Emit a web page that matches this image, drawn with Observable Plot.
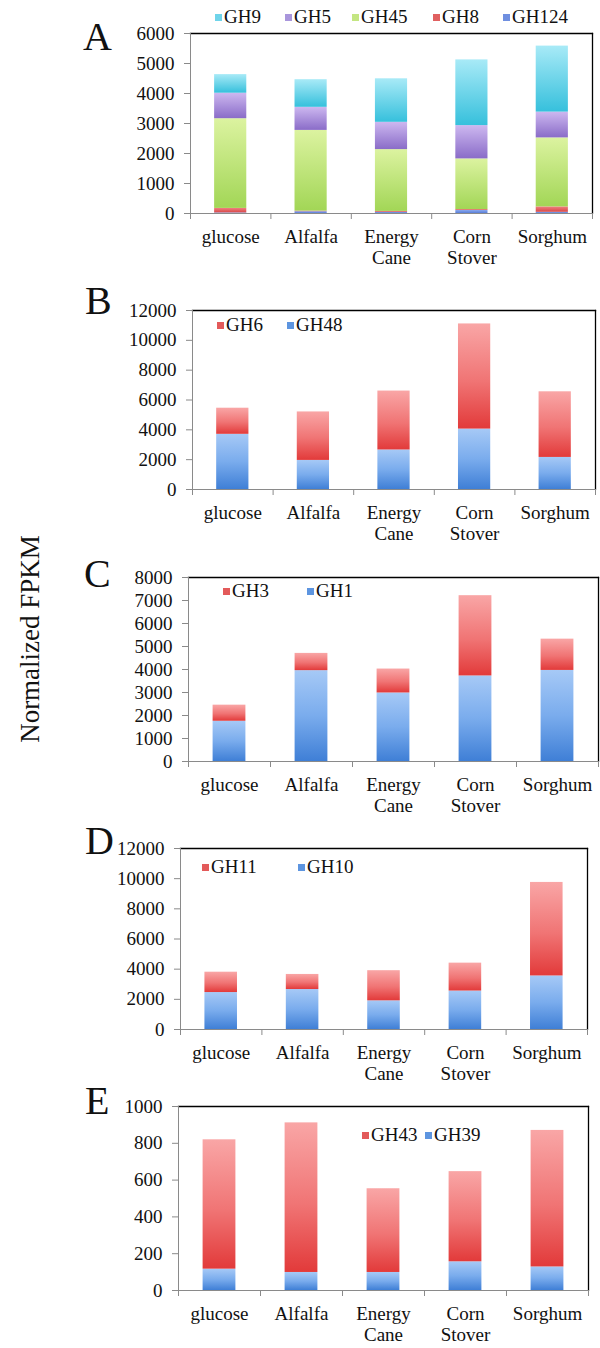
<!DOCTYPE html>
<html><head><meta charset="utf-8">
<script src="https://cdn.jsdelivr.net/npm/d3@7"></script>
<script src="https://cdn.jsdelivr.net/npm/@observablehq/plot@0.6"></script>
<style>
body{margin:0;background:#fff;}
#fig{position:relative;width:600px;height:1348px;overflow:hidden;font-family:'Liberation Serif',serif;color:#111;}
#fig svg text{font-family:'Liberation Serif',serif;}
.panel{position:absolute;left:0;}
.letter{position:absolute;font-family:'Liberation Serif',serif;font-size:40px;line-height:1;z-index:2;}
.ylabel{position:absolute;font-family:'Liberation Serif',serif;white-space:nowrap;font-size:27px;transform:translate(-50%,-50%) rotate(-90deg);z-index:2;}
.leg{position:absolute;font-family:'Liberation Serif',serif;height:22px;display:flex;align-items:center;font-size:19px;z-index:2;white-space:nowrap;}
.sw{display:inline-block;width:7px;height:7px;margin-right:2px;}
</style></head>
<body>
<svg width="0" height="0" style="position:absolute">
<defs>
<linearGradient id="gBlue" x1="0" y1="0" x2="0" y2="1"><stop offset="0" stop-color="#a6c9f6"/><stop offset="0.5" stop-color="#7aaced"/><stop offset="1" stop-color="#3f7fd6"/></linearGradient>
<linearGradient id="gRed" x1="0" y1="0" x2="0" y2="1"><stop offset="0" stop-color="#f9a6a6"/><stop offset="0.55" stop-color="#f07474"/><stop offset="1" stop-color="#e23a3a"/></linearGradient>
<linearGradient id="gCyan" x1="0" y1="0" x2="0" y2="1"><stop offset="0" stop-color="#a8eaf7"/><stop offset="1" stop-color="#36c0dc"/></linearGradient>
<linearGradient id="gPurple" x1="0" y1="0" x2="0" y2="1"><stop offset="0" stop-color="#cdb8f0"/><stop offset="1" stop-color="#8a6cc8"/></linearGradient>
<linearGradient id="gGreen" x1="0" y1="0" x2="0" y2="1"><stop offset="0" stop-color="#dcf3a0"/><stop offset="1" stop-color="#a2d656"/></linearGradient>
<linearGradient id="gRedA" x1="0" y1="0" x2="0" y2="1"><stop offset="0" stop-color="#f08080"/><stop offset="1" stop-color="#d84848"/></linearGradient>
<linearGradient id="gBlueA" x1="0" y1="0" x2="0" y2="1"><stop offset="0" stop-color="#8aa8ee"/><stop offset="1" stop-color="#5a7fd8"/></linearGradient>
</defs>
</svg>
<div id="fig"></div>
<script>
// ---- data ----
const categories = ["glucose", "Alfalfa", "Energy Cane", "Corn Stover", "Sorghum"];
const categoryLabels = ["glucose", "Alfalfa", "Energy\nCane", "Corn\nStover", "Sorghum"];

// Panel A (stack order bottom -> top)
const seriesA = ["GH124", "GH8", "GH45", "GH5", "GH9"];
const gh124 = [20, 60, 40, 100, 40];
const gh8 = [150, 20, 30, 30, 180];
const gh45 = [2990, 2690, 2060, 1690, 2300];
const gh5 = [850, 770, 910, 1110, 860];
const gh9 = [620, 920, 1450, 2190, 2200];

// Panel B
const seriesB = ["GH48", "GH6"];
const gh48 = [3700, 1950, 2650, 4050, 2150];
const gh6 = [1750, 3250, 3950, 7050, 4400];

// Panel C
const seriesC = ["GH1", "GH3"];
const gh1 = [1750, 3950, 2980, 3720, 3960];
const gh3 = [700, 750, 1040, 3490, 1360];

// Panel D
const seriesD = ["GH10", "GH11"];
const gh10 = [2450, 2650, 1900, 2550, 3550];
const gh11 = [1350, 1000, 2000, 1850, 6200];

// Panel E
const seriesE = ["GH39", "GH43"];
const gh39 = [116, 98, 98, 156, 128];
const gh43 = [703, 813, 455, 490, 742];

const yLabel = "Normalized FPKM";

// ---- drawing ----
const fig = document.getElementById("fig");
const SERIF = "'Liberation Serif', serif";

function addDiv(cls, text, css) {
  const d = document.createElement("div");
  d.className = cls;
  d.textContent = text;
  Object.assign(d.style, css);
  fig.appendChild(d);
  return d;
}

function panel(cfg) {
  const {frameTop, zero, left, right, yMax, yStep, series, values, fills} = cfg;
  const data = [];
  series.forEach((s, i) => categories.forEach((c, j) => data.push({category: c, series: s, value: values[i][j]})));
  const mt = 30, mb = 66;
  const height = (zero - frameTop) + mt + mb;
  const step = (right - left) / categories.length;
  const chart = Plot.plot({
    width: 600, height,
    marginTop: mt, marginBottom: mb, marginLeft: left, marginRight: 600 - right,
    style: {fontFamily: SERIF, fontSize: "19px", color: "#111", background: "transparent", overflow: "visible"},
    x: {domain: categories, paddingInner: 0.6, paddingOuter: 0.3, round: false, label: null},
    y: {domain: [0, yMax], label: null},
    color: {domain: series, range: fills},
    marks: [
      Plot.barY(data, Plot.stackY({x: "category", y: "value", fill: "series", order: null})),
      Plot.frame({anchor: "top", stroke: "#000", strokeWidth: 1.3}),
      Plot.frame({anchor: "right", stroke: "#000", strokeWidth: 1.3}),
      Plot.frame({anchor: "left", stroke: "#8a8a8a"}),
      Plot.ruleY([0], {stroke: "#8a8a8a"}),
      Plot.ruleX(categories, {x: d => d, y1: 0, y2: 0, dx: -step / 2, insetBottom: -6, stroke: "#8a8a8a"}),
      Plot.ruleX(categories.slice(-1), {x: d => d, y1: 0, y2: 0, dx: step / 2, insetBottom: -6, stroke: "#8a8a8a"}),
      Plot.axisY({ticks: d3.range(0, yMax + 1, yStep), tickSize: 6, tickPadding: 10, tickFormat: d => String(d), stroke: "#8a8a8a", fill: "#111", label: null}),
      Plot.axisX({tickSize: 0, tickPadding: 15, lineHeight: 1.1, tickFormat: d => categoryLabels[categories.indexOf(d)], fill: "#111", label: null})
    ]
  });
  chart.classList.add("panel");
  chart.style.top = (frameTop - mt) + "px";
  chart.style.position = "absolute";
  chart.style.fontFamily = SERIF;
  fig.appendChild(chart);
}

function legend(items, y) {
  items.forEach(([name, color, x]) => {
    const d = document.createElement("div");
    d.className = "leg";
    d.style.left = x + "px";
    d.style.top = (y - 11) + "px";
    const s = document.createElement("span");
    s.className = "sw";
    s.style.background = color;
    d.appendChild(s);
    d.appendChild(document.createTextNode(name));
    fig.appendChild(d);
  });
}

// Panel A
panel({frameTop: 33, zero: 213, left: 190, right: 592, yMax: 6000, yStep: 1000,
  series: seriesA, values: [gh124, gh8, gh45, gh5, gh9],
  fills: ["url(#gBlueA)", "url(#gRedA)", "url(#gGreen)", "url(#gPurple)", "url(#gCyan)"]});
legend([["GH9", "#6fd4ea", 215], ["GH5", "#a996dc", 285], ["GH45", "#c4e682", 352], ["GH8", "#e06060", 433], ["GH124", "#6f8fe0", 503]], 17);
addDiv("letter", "A", {left: "83px", top: "17px"});

// Panel B
panel({frameTop: 310, zero: 489, left: 192, right: 595, yMax: 12000, yStep: 2000,
  series: seriesB, values: [gh48, gh6], fills: ["url(#gBlue)", "url(#gRed)"]});
legend([["GH6", "#e35a5a", 217], ["GH48", "#5d95e0", 287]], 325);
addDiv("letter", "B", {left: "85px", top: "281px"});

// Panel C
panel({frameTop: 577, zero: 761, left: 188, right: 598, yMax: 8000, yStep: 1000,
  series: seriesC, values: [gh1, gh3], fills: ["url(#gBlue)", "url(#gRed)"]});
legend([["GH3", "#e35a5a", 223], ["GH1", "#5d95e0", 307]], 591);
addDiv("letter", "C", {left: "84px", top: "554px"});

// Panel D
panel({frameTop: 848, zero: 1029, left: 180, right: 587, yMax: 12000, yStep: 2000,
  series: seriesD, values: [gh10, gh11], fills: ["url(#gBlue)", "url(#gRed)"]});
legend([["GH11", "#e35a5a", 202], ["GH10", "#5d95e0", 298]], 867);
addDiv("letter", "D", {left: "85px", top: "821px"});

// Panel E
panel({frameTop: 1106, zero: 1290, left: 178, right: 588, yMax: 1000, yStep: 200,
  series: seriesE, values: [gh39, gh43], fills: ["url(#gBlue)", "url(#gRed)"]});
legend([["GH43", "#e35a5a", 362], ["GH39", "#5d95e0", 425]], 1135);
addDiv("letter", "E", {left: "85px", top: "1081px"});

addDiv("ylabel", yLabel, {left: "30px", top: "639px"});
</script>
</body></html>
